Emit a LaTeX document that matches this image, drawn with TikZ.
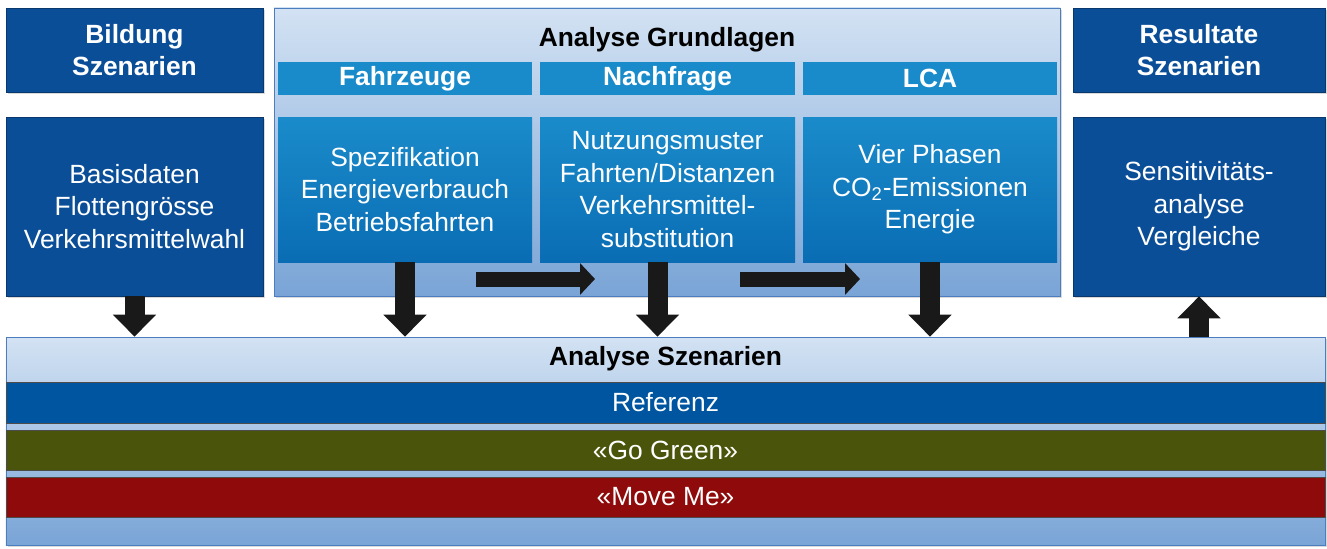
\documentclass[tikz,border=0pt]{standalone}
\usepackage{fontspec}
\setmainfont{Liberation Sans}
\usetikzlibrary{arrows.meta,shadows}
\definecolor{dunkel}{HTML}{0B4E98}
\definecolor{dunkelrand}{HTML}{08386E}
\definecolor{hellob}{HTML}{D3E2F3}
\definecolor{hellu}{HTML}{79A4D6}
\definecolor{hellrand}{HTML}{4C7DBE}
\definecolor{mittel}{HTML}{1A8BCA}
\definecolor{mittelu}{HTML}{0A6DB4}
\definecolor{refblau}{HTML}{0055A0}
\definecolor{gruen}{HTML}{4A550B}
\definecolor{rot}{HTML}{8F0A0A}
\begin{document}
\begin{tikzpicture}[every node/.style={font=\fontsize{15}{18.5}\selectfont,align=center,inner sep=0pt},
  dbox/.style={draw=dunkelrand,fill=dunkel,text=white,drop shadow={opacity=0.3,shadow xshift=0.04cm,shadow yshift=-0.04cm}},
  hbox/.style={draw=hellrand,top color=hellob,bottom color=hellu,drop shadow={opacity=0.3,shadow xshift=0.04cm,shadow yshift=-0.04cm}},
  kopf/.style={fill=mittel,text=white,font=\fontsize{15}{18.5}\selectfont\bfseries,minimum height=0.66cm},
  inhalt/.style={top color=mittel,bottom color=mittelu,text=white,minimum height=2.9cm},
  band/.style={draw=black!70,text=white,minimum width=26.38cm,minimum height=0.8cm},
  pfeil/.style={line width=0.4cm,-{Triangle[length=0.44cm,width=0.84cm]},black!90},
  querpfeil/.style={line width=0.3cm,-{Triangle[length=0.3cm,width=0.62cm]},black!90}]
\useasboundingbox (0,0) rectangle (26.54,10.96);
\node[dbox,minimum width=5.14cm,minimum height=1.68cm,font=\fontsize{15}{18.5}\selectfont\bfseries] (bild) at (2.69,9.96) {Bildung\\Szenarien};
\node[dbox,minimum width=5.14cm,minimum height=3.58cm] (basis) at (2.69,6.83) {Basisdaten\\Flottengrösse\\Verkehrsmittelwahl};
\node[hbox,minimum width=15.72cm,minimum height=5.76cm] (grund) at (13.34,7.92) {};
\node[font=\fontsize{15}{18.5}\selectfont\bfseries] (grundtitel) at (13.34,10.16) {Analyse Grundlagen};
\node[kopf,minimum width=5.08cm] (fz) at (8.10,9.39) {Fahrzeuge};
\node[kopf,minimum width=5.10cm] (nf) at (13.35,9.39) {Nachfrage};
\node[kopf,minimum width=5.08cm] (lca) at (18.60,9.39) {LCA};
\node[inhalt,minimum width=5.08cm] (fzinh) at (8.10,7.17) {Spezifikation\\Energieverbrauch\\Betriebsfahrten};
\node[inhalt,minimum width=5.10cm] (nfinh) at (13.35,7.17) {Nutzungsmuster\\Fahrten/Distanzen\\Verkehrsmittel-\\substitution};
\node[inhalt,minimum width=5.08cm] (lcainh) at (18.60,7.17) {Vier Phasen\\CO\textsubscript{2}-Emissionen\\Energie};
\node[dbox,minimum width=5.04cm,minimum height=1.68cm,font=\fontsize{15}{18.5}\selectfont\bfseries] (res) at (23.98,9.96) {Resultate\\Szenarien};
\node[dbox,minimum width=5.04cm,minimum height=3.58cm] (sens) at (23.98,6.83) {Sensitivitäts-\\analyse\\Vergleiche};
\node[hbox,minimum width=26.38cm,minimum height=4.16cm] (szen) at (13.31,2.14) {};
\node[font=\fontsize{15}{18.5}\selectfont\bfseries] (szentitel) at (13.31,3.78) {Analyse Szenarien};
\node[band,fill=refblau,minimum height=0.82cm] (ref) at (13.31,2.91) {Referenz};
\node[band,fill=gruen] (green) at (13.31,1.96) {«Go Green»};
\node[band,fill=rot] (move) at (13.31,1.02) {«Move Me»};
\coordinate (q1a) at (9.52,5.38);
\coordinate (q1b) at (11.90,5.38);
\coordinate (q2a) at (14.80,5.38);
\coordinate (q2b) at (17.20,5.38);
\draw[querpfeil] (q1a) -- (q1b);
\draw[querpfeil] (q2a) -- (q2b);
\draw[pfeil] (basis.south) -- (basis.south |- szen.north);
\draw[pfeil] (fzinh.south) -- (fzinh.south |- szen.north);
\draw[pfeil] ([xshift=-0.2cm]nfinh.south) -- ([xshift=-0.2cm]nfinh.south |- szen.north);
\draw[pfeil] (lcainh.south) -- (lcainh.south |- szen.north);
\draw[pfeil] (szen.north -| sens.south) -- (sens.south);
\end{tikzpicture}
\end{document}
